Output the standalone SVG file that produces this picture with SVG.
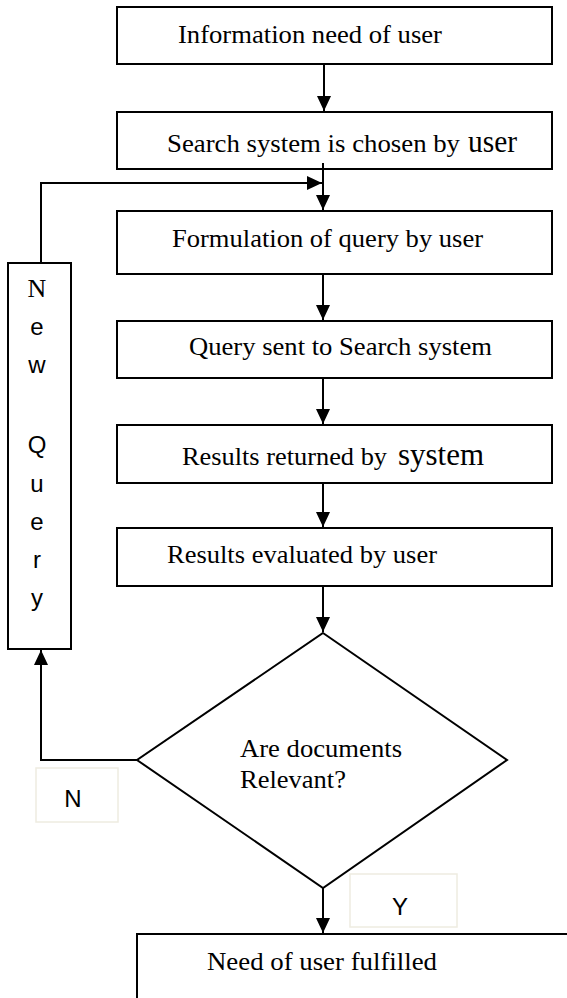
<svg xmlns="http://www.w3.org/2000/svg" width="567" height="998" viewBox="0 0 567 998">
<style>
.box{fill:#fff;stroke:#000;stroke-width:2}
.lbl{fill:#fff;stroke:#eeece1;stroke-width:1.5}
.t{font-family:"Liberation Serif","Times New Roman",serif;font-size:26px;fill:#000}
.big{font-size:31px}
.s{font-family:"Liberation Sans",Arial,sans-serif;font-size:24px;fill:#000}
.c{stroke:#000;stroke-width:2;fill:none}
</style>
<defs>
<marker id="ah" markerUnits="userSpaceOnUse" markerWidth="16" markerHeight="16" refX="15" refY="7" orient="auto">
<path d="M0,0 L15,7 L0,14 Z" fill="#000"/>
</marker>
</defs>
<g id="connectors">
<path class="c" d="M324,64 V111" marker-end="url(#ah)"/>
<path class="c" d="M323,163 V210" marker-end="url(#ah)"/>
<path class="c" d="M41,263 V183 H322" marker-end="url(#ah)"/>
<path class="c" d="M323,274 V320" marker-end="url(#ah)"/>
<path class="c" d="M323,378 V424" marker-end="url(#ah)"/>
<path class="c" d="M323,483 V527" marker-end="url(#ah)"/>
<path class="c" d="M323,586 V632" marker-end="url(#ah)"/>
<path class="c" d="M137,760 H41 V650" marker-end="url(#ah)"/>
<path class="c" d="M323,888 V933" marker-end="url(#ah)"/>
</g>
<g id="n1">
<rect class="box" x="117" y="7" width="435" height="57"/>
<text class="t" x="178" y="43" textLength="264" lengthAdjust="spacingAndGlyphs">Information need of user</text>
</g>
<g id="n2">
<rect class="box" x="117" y="112" width="435" height="57"/>
<text class="t" x="167" y="152" textLength="293" lengthAdjust="spacingAndGlyphs">Search system is chosen by</text>
<text class="t big" x="468" y="152" textLength="49" lengthAdjust="spacingAndGlyphs">user</text>
</g>
<path class="c" d="M323,163 V196"/>
<g id="n3">
<rect class="box" x="117" y="211" width="435" height="63"/>
<text class="t" x="172" y="247" textLength="311" lengthAdjust="spacingAndGlyphs">Formulation of query by user</text>
</g>
<g id="n4">
<rect class="box" x="117" y="321" width="435" height="57"/>
<text class="t" x="189" y="355" textLength="303" lengthAdjust="spacingAndGlyphs">Query sent to Search system</text>
</g>
<g id="n5">
<rect class="box" x="117" y="425" width="435" height="58"/>
<text class="t" x="182" y="465" textLength="205" lengthAdjust="spacingAndGlyphs">Results returned by</text>
<text class="t big" x="398" y="465" textLength="86" lengthAdjust="spacingAndGlyphs">system</text>
</g>
<g id="n6">
<rect class="box" x="117" y="528" width="435" height="58"/>
<text class="t" x="167" y="563" textLength="270" lengthAdjust="spacingAndGlyphs">Results evaluated by user</text>
</g>
<g id="decision">
<polygon class="box" points="323,633 507,760 323,888 137,760"/>
<text class="t" x="240" y="757" textLength="162" lengthAdjust="spacingAndGlyphs">Are documents</text>
<text class="t" x="240" y="788" textLength="106" lengthAdjust="spacingAndGlyphs">Relevant?</text>
</g>
<g id="newquery">
<rect class="box" x="8" y="263" width="63" height="386"/>
<text class="t" x="37" y="297" text-anchor="middle">N</text>
<text class="s" x="37" y="335" text-anchor="middle">e</text>
<text class="s" x="37" y="373" text-anchor="middle">w</text>
<text class="s" x="37" y="453" text-anchor="middle">Q</text>
<text class="s" x="37" y="492" text-anchor="middle">u</text>
<text class="s" x="37" y="530" text-anchor="middle">e</text>
<text class="s" x="37" y="568" text-anchor="middle">r</text>
<text class="s" x="37" y="606" text-anchor="middle">y</text>
</g>
<g id="labelN">
<rect class="lbl" x="36" y="768" width="82" height="54"/>
<text class="s" x="73" y="807" text-anchor="middle">N</text>
</g>
<g id="labelY">
<rect class="lbl" x="350" y="874" width="107" height="53"/>
<text class="s" x="400" y="915" text-anchor="middle">Y</text>
</g>
<g id="n7">
<rect class="box" x="137" y="934" width="440" height="80"/>
<text class="t" x="207" y="970" textLength="230" lengthAdjust="spacingAndGlyphs">Need of user fulfilled</text>
</g>
</svg>
